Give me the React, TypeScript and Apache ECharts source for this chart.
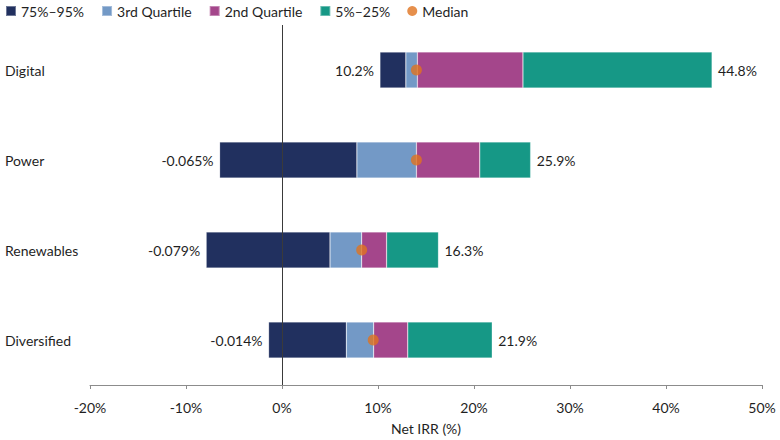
import React, { useEffect, useRef } from "react";
import * as echarts from "echarts";

const categories = ["Digital", "Power", "Renewables", "Diversified"];
const lowEnd = [10.2, -6.5, -7.9, -1.4];
const darkEnd = [12.9, 7.8, 5.0, 6.7];
const lightEnd = [14.1, 14.0, 8.3, 9.55];
const purpleEnd = [25.1, 20.6, 10.9, 13.1];
const highEnd = [44.8, 25.9, 16.3, 21.9];
const medians = [14.0, 14.0, 8.3, 9.5];
const leftLabels = ["10.2%", "-0.065%", "-0.079%", "-0.014%"];
const rightLabels = ["44.8%", "25.9%", "16.3%", "21.9%"];
const seriesNames = ["75%–95%", "3rd Quartile", "2nd Quartile", "5%–25%"];
const seriesColors = ["#21305f", "#7399c6", "#a4468b", "#169886"];
const medianColor = "#e0731f";
const axisTicks = { min: -20, max: 50, interval: 10 };

const FONT = "Lato, 'Noto Sans', sans-serif";
const TEXT = "#1f1f1f";
const FS = 14;

export default function App() {
  const ref = useRef<HTMLDivElement>(null);
  useEffect(() => {
    document.body.style.margin = "0";
    if (!ref.current) return;
    const chart = echarts.init(ref.current, undefined, { renderer: "svg" });
    const diff = (a: number[], b: number[]) => a.map((v, i) => +(v - b[i]).toFixed(3));
    const segs = [
      diff(darkEnd, lowEnd),
      diff(lightEnd, darkEnd),
      diff(purpleEnd, lightEnd),
      diff(highEnd, purpleEnd),
    ];
    const barCommon = {
      type: "bar",
      stack: "total",
      stackStrategy: "all",
      barWidth: 36,
      silent: true,
    };
    const series: any[] = [
      {
        ...barCommon,
        name: "base",
        data: lowEnd,
        itemStyle: { color: "transparent" },
      },
      ...segs.map((d, k) => ({
        ...barCommon,
        name: seriesNames[k],
        data: d,
        itemStyle: {
          color: seriesColors[k],
          borderColor: "rgba(255,255,255,0.35)",
          borderWidth: 0.6,
        },
        label:
          k === 0
            ? {
                show: true,
                position: "left",
                distance: 6,
                color: TEXT,
                fontSize: FS,
                fontFamily: FONT,
                formatter: (p: any) => leftLabels[p.dataIndex],
              }
            : k === 3
            ? {
                show: true,
                position: "right",
                distance: 6,
                color: TEXT,
                fontSize: FS,
                fontFamily: FONT,
                formatter: (p: any) => rightLabels[p.dataIndex],
              }
            : { show: false },
      })),
      {
        type: "scatter",
        name: "Median",
        data: medians.map((m, i) => [m, i]),
        symbol: "circle",
        symbolSize: 11,
        itemStyle: { color: medianColor },
        z: 10,
        silent: true,
        markLine: {
          silent: true,
          symbol: ["none", "none"],
          label: { show: false },
          lineStyle: { color: "#3a3a3a", width: 1, type: "solid" },
          data: [{ xAxis: 0 }],
        },
      },
    ];
    chart.setOption({
      animation: false,
      textStyle: { fontFamily: FONT },
      legend: {
        left: 5,
        top: 4,
        padding: 0,
        itemWidth: 10,
        itemHeight: 10,
        itemGap: 17,
        icon: "rect",
        textStyle: { color: TEXT, fontSize: FS, fontFamily: FONT },
        data: [
          ...seriesNames.map((n) => ({ name: n, icon: "rect" })),
          { name: "Median", icon: "circle" },
        ],
      },
      grid: { left: 90, right: 18, top: 25, bottom: 54, containLabel: false },
      xAxis: {
        type: "value",
        min: axisTicks.min,
        max: axisTicks.max,
        interval: axisTicks.interval,
        name: "Net IRR (%)",
        nameLocation: "middle",
        nameGap: 36,
        nameTextStyle: { color: TEXT, fontSize: FS, fontFamily: FONT },
        axisLine: { show: true, lineStyle: { color: "#8c8c8c", width: 1 } },
        axisTick: { show: true, length: 4, lineStyle: { color: "#8c8c8c" } },
        axisLabel: {
          formatter: "{value}%",
          color: TEXT,
          fontSize: FS,
          fontFamily: FONT,
          margin: 15,
        },
        splitLine: { show: false },
      },
      yAxis: {
        type: "category",
        data: categories,
        inverse: true,
        axisLine: { show: false, onZero: false },
        axisTick: { show: false },
        axisLabel: {
          align: "left",
          margin: 85,
          color: TEXT,
          fontSize: FS,
          fontFamily: FONT,
        },
        splitLine: { show: false },
      },
      series,
    });
    return () => chart.dispose();
  }, []);
  return <div ref={ref} style={{ width: 780, height: 440 }} />;
}
